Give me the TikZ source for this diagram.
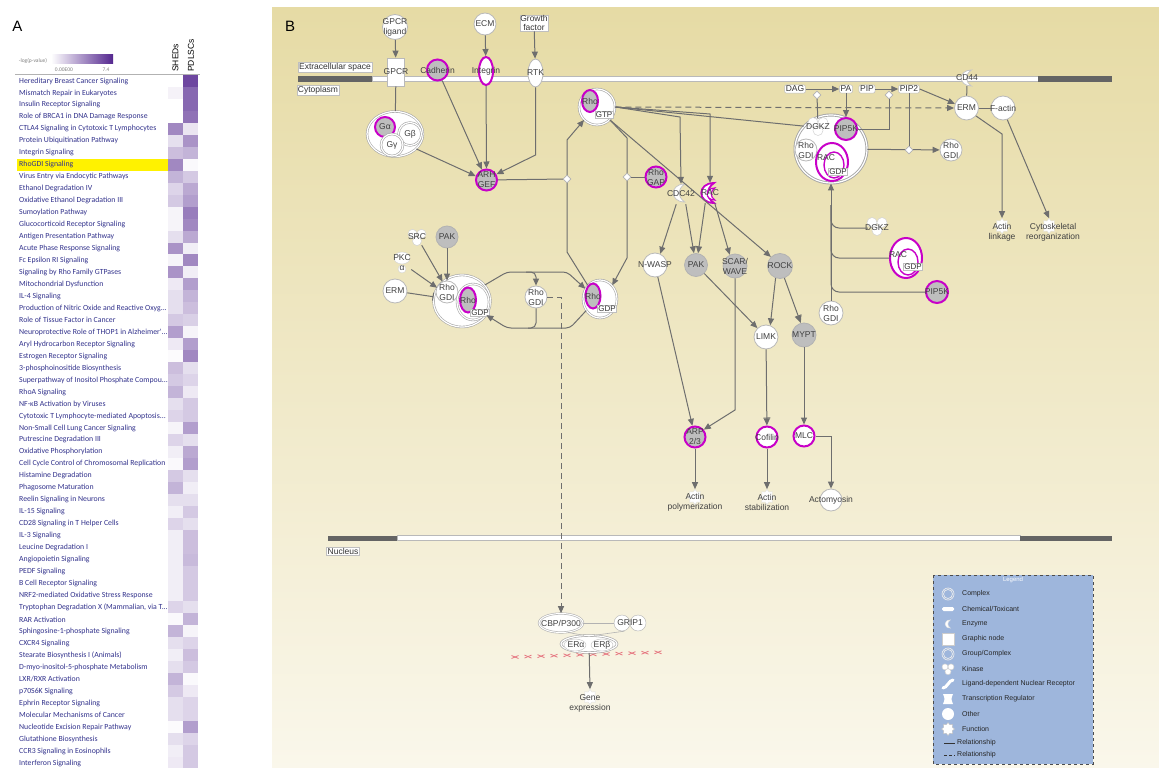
\documentclass[tikz,border=0pt]{standalone}
\usepackage{fontspec}
\setmainfont{Liberation Sans}
\newfontfamily\listfont{Carlito}
\usepackage{tikz}
\usetikzlibrary{arrows.meta,shapes.geometric}

\definecolor{hmpurple}{RGB}{84,39,143}
\definecolor{pwblue}{RGB}{50,50,140}
\definecolor{bgtop}{RGB}{230,219,165}
\definecolor{bgbot}{RGB}{250,247,235}
\definecolor{hlmag}{RGB}{200,0,200}
\definecolor{molgray}{RGB}{190,190,190}
\definecolor{edgegray}{RGB}{110,110,110}
\definecolor{memdark}{RGB}{100,100,100}
\definecolor{legblue}{RGB}{158,182,220}
\definecolor{dnared}{RGB}{230,120,130}

% three-lobed kinase glyph: x, y, lobe radius
\newcommand{\kinshape}[3]{%
  \foreach \kdx/\kdy in {-1/-0.7,1/-0.7,0/0.9}
    \filldraw[fill=white, draw=gray!35, line width=0.5pt] ({#1+\kdx*#3},{#2+\kdy*#3}) circle ({#3});}
% crescent enzyme glyph: x, y, size, colour, line width
\newcommand{\enzshape}[5]{%
  \filldraw[fill=white, draw=#4, line width=#5] ({#1+0.3*#3},{#2-#3}) .. controls ({#1-1.4*#3},{#2-#3}) and ({#1-1.4*#3},{#2+#3}) .. ({#1+0.3*#3},{#2+#3}) .. controls ({#1-0.5*#3},{#2+0.45*#3}) and ({#1-0.5*#3},{#2-0.45*#3}) .. cycle;}

\begin{document}
\begin{tikzpicture}[x=1pt,y=-1pt,
    pathway/.style={anchor=west, inner sep=0pt, text=pwblue, font=\listfont\fontsize{7.8}{7.8}\selectfont},
    lab/.style={font=\fontsize{8.5}{10}\selectfont, text=black!75, align=center, inner sep=0pt},
    wmol/.style={circle, fill=white, draw=gray!55, line width=0.8pt, inner sep=0pt},
    gmol/.style={circle, fill=molgray, draw=gray!60, line width=0.8pt, inner sep=0pt},
    hl/.style={draw=hlmag, line width=2pt},
    cplx/.style={circle, fill=white, draw=gray!70, double=white, double distance=1.2pt, line width=0.6pt, inner sep=0pt},
    lbox/.style={fill=white, draw=gray!50, line width=0.5pt, inner sep=1pt, font=\fontsize{8.5}{9}\selectfont, text=black!80},
    gbox/.style={fill=white, draw=gray!50, line width=0.5pt, inner sep=0.8pt, font=\fontsize{8}{8}\selectfont, text=black!80},
    chem/.style={rounded corners=2pt, fill=white, draw=gray!50, line width=0.5pt, inner sep=1.2pt, font=\fontsize{8.5}{8.5}\selectfont, text=black!80},
    conn/.style={draw=edgegray, line width=1pt, -{Triangle[length=7pt,width=6pt]}},
    plain/.style={draw=edgegray, line width=1pt},
    dconn/.style={conn, dash pattern=on 6pt off 4pt},
    barconn/.style={draw=edgegray, line width=1pt, -{Bar[width=7pt] Triangle[length=7pt,width=6pt]}},
    inhib/.style={draw=edgegray, line width=1pt, -{Bar[width=8pt]}},
    catal/.style={diamond, fill=white, draw=gray!60, line width=0.6pt, inner sep=0pt, minimum size=8pt},
    fnode/.style={star, star points=8, star point ratio=1.4, fill=white, draw=gray!25, inner sep=0pt, minimum size=15pt},
    legtext/.style={anchor=west, inner sep=0pt, font=\fontsize{7}{7}\selectfont, text=black!85}
  ]
    % Canvas
    \useasboundingbox (0,0) rectangle (1159,768);
    \fill[white] (0,0) rectangle (1159,768);

    % Panel A: heat map of pathways
    \node[font=\fontsize{15}{15}\selectfont] (labA) at (17.5,26) {A};
    \node[font=\listfont\fontsize{5.5}{5.5}\selectfont, text=gray] (pvalue) at (33,61) {-log(p-value)};
    \shade[left color=white, right color=hmpurple] (51,55) rectangle (113,64);
    \node[font=\listfont\fontsize{5.5}{5.5}\selectfont, text=gray] (pmin) at (64,70) {0.00E00};
    \node[font=\listfont\fontsize{5.5}{5.5}\selectfont, text=gray] (pmax) at (106,70) {7.4};
    \node[rotate=90, anchor=west, inner sep=0pt, font=\fontsize{8.5}{8.5}\selectfont] (colS) at (175.5,72) {SHEDs};
    \node[rotate=90, anchor=west, inner sep=0pt, font=\fontsize{8.5}{8.5}\selectfont] (colP) at (191,72) {PDLSCs};
    \draw[gray!60] (15,74.5) -- (200,74.5);
    \fill[yellow] (17,158.8) rectangle (168,170.7);
    \foreach \pw/\shv/\pdv [count=\i] in {
        {Hereditary Breast Cancer Signaling}/0/85,
        {Mismatch Repair in Eukaryotes}/6/70,
        {Insulin Receptor Signaling}/0/70,
        {Role of BRCA1 in DNA Damage Response}/0/65,
        {CTLA4 Signaling in Cytotoxic T Lymphocytes}/55/12,
        {Protein Ubiquitination Pathway}/15/50,
        {Integrin Signaling}/30/35,
        {RhoGDI Signaling}/55/3,
        {Virus Entry via Endocytic Pathways}/35/25,
        {Ethanol Degradation IV}/20/40,
        {Oxidative Ethanol Degradation III}/25/45,
        {Sumoylation Pathway}/5/60,
        {Glucocorticoid Receptor Signaling}/5/55,
        {Antigen Presentation Pathway}/15/40,
        {Acute Phase Response Signaling}/50/8,
        {Fc Epsilon RI Signaling}/5/55,
        {Signaling by Rho Family GTPases}/50/8,
        {Mitochondrial Dysfunction}/10/45,
        {IL-4 Signaling}/15/35,
        {Production of Nitric Oxide and Reactive Oxyg...}/15/30,
        {Role of Tissue Factor in Cancer}/25/22,
        {Neuroprotective Role of THOP1 in Alzheimer'...}/45/5,
        {Aryl Hydrocarbon Receptor Signaling}/10/45,
        {Estrogen Receptor Signaling}/2/55,
        {3-phosphoinositide Biosynthesis}/30/15,
        {Superpathway of Inositol Phosphate Compou...}/25/20,
        {RhoA Signaling}/35/10,
        {NF-κB Activation by Viruses}/15/25,
        {Cytotoxic T Lymphocyte-mediated Apoptosis...}/20/25,
        {Non-Small Cell Lung Cancer Signaling}/5/45,
        {Putrescine Degradation III}/20/15,
        {Oxidative Phosphorylation}/8/40,
        {Cell Cycle Control of Chromosomal Replication}/3/45,
        {Histamine Degradation}/25/15,
        {Phagosome Maturation}/35/8,
        {Reelin Signaling in Neurons}/15/15,
        {IL-15 Signaling}/8/25,
        {CD28 Signaling in T Helper Cells}/20/15,
        {IL-3 Signaling}/8/30,
        {Leucine Degradation I}/8/30,
        {Angiopoietin Signaling}/8/32,
        {PEDF Signaling}/8/25,
        {B Cell Receptor Signaling}/8/25,
        {NRF2-mediated Oxidative Stress Response}/8/25,
        {Tryptophan Degradation X (Mammalian, via T...}/20/15,
        {RAR Activation}/3/35,
        {Sphingosine-1-phosphate Signaling}/35/5,
        {CXCR4 Signaling}/15/20,
        {Stearate Biosynthesis I (Animals)}/8/30,
        {D-myo-inositol-5-phosphate Metabolism}/15/25,
        {LXR/RXR Activation}/35/3,
        {p70S6K Signaling}/25/10,
        {Ephrin Receptor Signaling}/15/20,
        {Molecular Mechanisms of Cancer}/15/20,
        {Nucleotide Excision Repair Pathway}/2/45,
        {Glutathione Biosynthesis}/15/20,
        {CCR3 Signaling in Eosinophils}/8/25,
        {Interferon Signaling}/10/25}{
        \fill[hmpurple!\shv] (168,{75+(\i-1)*11.965}) rectangle (183,{75+\i*11.965});
        \fill[hmpurple!\pdv] (183,{75+(\i-1)*11.965}) rectangle (198,{75+\i*11.965});
        \node[pathway] (pw\i) at (19,{81+(\i-1)*11.965}) {\pw};
    }

    % Panel B: background and membranes
    \shade[top color=bgtop, bottom color=bgbot] (272,8) rectangle (1159,768);
    \node[font=\fontsize{15}{15}\selectfont] (labB) at (290,26) {B};
    \fill[memdark] (298,76.5) rectangle (372,81.5);
    \filldraw[fill=white, draw=gray!55, line width=0.6pt] (372,76.5) rectangle (1038,81.5);
    \fill[memdark] (1038,76.5) rectangle (1112,81.5);
    \fill[memdark] (328,535.5) rectangle (397,540.5);
    \filldraw[fill=white, draw=gray!55, line width=0.6pt] (397,535.5) rectangle (1020,540.5);
    \fill[memdark] (1020,535.5) rectangle (1112,540.5);
    \node[lbox] (extra) at (335,67) {Extracellular space};
    \node[lbox] (cyto) at (318,90) {Cytoplasm};
    \node[lbox] (nucl) at (343,551) {Nucleus};

    % Receptors at the membrane
    \node[wmol, minimum size=25pt, label={[lab]center:{GPCR\\ligand}}] (gpcrlig) at (395,27) {};
    \node[wmol, minimum size=22pt, label={[lab]center:ECM}] (ecm) at (485,24) {};
    \node[lbox, align=center, inner sep=0.5pt] (growth) at (534,23) {Growth\\factor};
    \node[rectangle, fill=white, draw=gray!55, line width=0.8pt, minimum width=17pt, minimum height=28pt, inner sep=0pt, label={[lab]center:GPCR}] (gpcr) at (396,72) {};
    \node[gmol, hl, minimum size=21pt, label={[lab]center:Cadherin}] (cadh) at (437.5,70) {};
    \node[wmol, ellipse, hl, minimum width=14pt, minimum height=28pt, label={[lab]center:Integrin}] (integ) at (486,71) {};
    \node[wmol, ellipse, minimum width=15pt, minimum height=28pt, label={[lab]center:RTK}] (rtk) at (535.5,73) {};

    % G protein complex and ARHGEF
    \node[cplx, ellipse, minimum width=56pt, minimum height=45pt] (gcomp) at (395,134) {};
    \node[gmol, hl, minimum size=20pt, label={[lab]center:Gα}] (galpha) at (385,127) {};
    \node[cplx, minimum size=23pt, label={[lab]center:Gβ}] (gbeta) at (410,134) {};
    \node[cplx, minimum size=22pt, label={[lab]center:Gγ}] (ggamma) at (392,145) {};
    \node[gmol, hl, minimum size=21pt, label={[lab]center:{ARH\\GEF}}] (arhgef) at (486.5,180) {};
    \draw[conn] (gpcrlig) -- (gpcr);
    \draw[conn] (ecm) -- (integ);
    \draw[conn] (growth) -- (rtk);
    \draw[plain] (gpcr) -- (gcomp);
    \draw[conn] (cadh) -- (arhgef);
    \draw[conn] (integ) -- (arhgef);
    \draw[conn] (rtk.south) -- (535.5,155) -- (arhgef.30);
    \draw[conn] (gcomp.-35) -- (arhgef.160);

    % Rho GTP / GDP cycle
    \node[cplx, minimum size=36pt] (gtpcx) at (597,107) {};
    \node[gmol, hl, ellipse, minimum width=16pt, minimum height=22pt, label={[lab]center:Rho}] (rhoT) at (590,101) {};
    \node[gbox] (gtp) at (604,115) {GTP};
    \node[cplx, ellipse, minimum width=34pt, minimum height=38pt] (rcx) at (600,299) {};
    \node[gmol, hl, ellipse, minimum width=15pt, minimum height=25pt, label={[lab]center:Rho}] (rhoR) at (593,296) {};
    \node[gbox] (gdpR) at (607,309) {GDP};
    \node[cplx, ellipse, minimum width=57pt, minimum height=52pt] (lcx) at (462,301) {};
    \node[wmol, minimum size=22pt, label={[lab]center:{Rho\\GDI}}] (gdiL) at (447,292) {};
    \node[cplx, ellipse, minimum width=32pt, minimum height=36pt] (lgdp) at (473,302) {};
    \node[gmol, hl, ellipse, minimum width=16pt, minimum height=25pt, label={[lab]center:Rho}] (rhoL) at (468,300) {};
    \node[gbox] (gdpL) at (480,313) {GDP};

    % Regulators of the Rho GDI complex
    \kinshape{417}{237}{4.5}
    \node[minimum size=16pt, inner sep=0pt, label={[lab]center:SRC}] (src) at (417,237) {};
    \node[gmol, minimum size=22pt, label={[lab]center:PAK}] (pakL) at (447,237) {};
    \filldraw[fill=white, draw=gray!35] (402,258) ellipse (8 and 6);
    \filldraw[fill=white, draw=gray!35] (402,269) ellipse (4 and 4);
    \node[minimum size=18pt, inner sep=0pt, label={[lab]center:{PKC\\α}}] (pkc) at (402,263) {};
    \node[wmol, minimum size=24pt, label={[lab]center:ERM}] (ermL) at (395,291) {};
    \draw[conn] (src) -- (lcx.135);
    \draw[conn] (pakL) -- (gdiL);
    \draw[conn] (pkc) -- (lcx.152);
    \draw[inhib] (ermL) -- (lcx);

    \node[wmol, minimum size=22pt, label={[lab]center:{Rho\\GDI}}] (gdiM) at (536,297) {};
    \coordinate (brtop) at (526,272);
    \coordinate (brbot) at (528,328);
    \draw[conn, rounded corners=4pt] (lcx.35) -- (507,272) -- (567,272) -- (rcx.145);
    \draw[conn, rounded corners=5pt] (brtop) -| (gdiM.north);
    \draw[conn, rounded corners=4pt] (rcx.220) -- (570,328) -- (507,328) -- (lcx.-30);
    \draw[plain, rounded corners=5pt] (gdiM.south) |- (brbot);
    \draw[conn] (rcx.north west) -- (567,252) -- (567,140) -- (gtpcx.south west);
    \draw[conn] (gtpcx.south east) -- (627,138) -- (627,258) -- (rcx.north east);
    \node[catal] (dGEF) at (567,179) {};
    \draw[plain] (arhgef) -- (dGEF);
    \node[gmol, hl, minimum size=21pt, label={[lab]center:{Rho\\GAP}}] (rhogap) at (656,177) {};
    \node[catal] (dGAP) at (627,177) {};
    \draw[plain] (dGAP) -- (rhogap);

    % Rho GTP effectors
    \enzshape{682}{193}{9}{gray!45}{0.8pt}
    \node[minimum size=20pt, inner sep=0pt, label={[lab]center:CDC42}] (cdc) at (681,194) {};
    \enzshape{711}{193}{10}{hlmag}{1.8pt}
    \enzshape{713}{194}{6}{hlmag}{1.2pt}
    \node[minimum size=20pt, inner sep=0pt, label={[lab]center:RAC}] (rac) at (710,193) {};
    \node[wmol, minimum size=24pt, label={[lab]center:N-WASP}] (nwasp) at (655,265) {};
    \node[gmol, minimum size=23pt, label={[lab]center:PAK}] (pakR) at (696,265) {};
    \node[gmol, minimum size=24pt, label={[lab]center:{SCAR/\\WAVE}}] (scar) at (735,266) {};
    \node[gmol, minimum size=25pt, label={[lab]center:ROCK}] (rock) at (780,266) {};
    \draw[conn] (gtpcx.east) -- (680,117) -- (cdc.north);
    \draw[conn] (gtpcx.east) -- (710,114) -- (rac.north);
    \draw[conn] (gtpcx.south east) -- (rock.north west);
    \draw[conn] (cdc.245) -- (nwasp.65);
    \draw[conn] (cdc.295) -- (pakR.100);
    \draw[conn] (rac.245) -- (pakR.80);
    \draw[conn] (rac.295) -- (scar.115);

    % Cytoskeletal outputs
    \node[wmol, minimum size=24pt, label={[lab]center:LIMK}] (limk) at (766,337) {};
    \node[gmol, minimum size=24pt, label={[lab]center:MYPT}] (mypt) at (804,335) {};
    \node[gmol, hl, minimum size=21pt, label={[lab]center:{ARP\\2/3}}] (arp) at (695,437) {};
    \node[wmol, hl, minimum size=21pt, label={[lab]center:Cofilin}] (cofilin) at (767,437) {};
    \node[wmol, hl, minimum size=21pt, label={[lab]center:MLC}] (mlc) at (804,436) {};
    \node[fnode] (actpol) at (695,497) {};
    \node[lab] (actpolT) at (695,502) {Actin\\polymerization};
    \node[fnode] (actstab) at (767,497) {};
    \node[lab] (actstabT) at (767,502) {Actin\\stabilization};
    \node[wmol, minimum size=22pt, label={[lab]center:Actomyosin}] (actomy) at (831,500) {};
    \draw[conn] (nwasp) -- (arp);
    \draw[conn] (scar.south) -- (735,410) -- (arp.40);
    \draw[conn] (pakR) -- (limk);
    \draw[conn] (rock.250) -- (limk.70);
    \draw[barconn] (rock.290) -- (mypt.105);
    \draw[barconn] (limk) -- (cofilin);
    \draw[conn] (mypt) -- (mlc);
    \draw[conn] (arp) -- (actpol);
    \draw[conn] (cofilin) -- (actstab);
    \draw[conn] (mlc.east) -| (actomy.north);

    % Lipid signalling and the DGKZ complex
    \node[cplx, ellipse, minimum width=72pt, minimum height=68pt, line width=0.9pt] (bigcx) at (831,149) {};
    \kinshape{818}{126}{5}
    \node[minimum size=18pt, inner sep=0pt, label={[lab]center:DGKZ}] (dgkzA) at (818,127) {};
    \node[gmol, hl, minimum size=22pt, label={[lab]center:PIP5K}] (pip5kA) at (846,129) {};
    \node[wmol, minimum size=22pt, label={[lab]center:{Rho\\GDI}}] (gdiA) at (806,150) {};
    \node[ellipse, fill=white, draw=hlmag, line width=2pt, minimum width=32pt, minimum height=38pt] (racA) at (832,162) {};
    \draw[hlmag, line width=1.4pt] (834,165) ellipse (10 and 13);
    \node[lab] (racAT) at (826,158) {RAC};
    \node[gbox] (gdpA) at (838,172) {GDP};
    \node[chem] (dag) at (795,89) {DAG};
    \node[chem] (pa) at (846,89) {PA};
    \node[chem] (pip) at (867,89) {PIP};
    \node[chem] (pip2) at (909,89) {PIP2};
    \draw[conn] (dag) -- (pa);
    \draw[conn] (pip) -- (pip2);
    \draw[conn] (pa) -- (pip5kA);
    \node[catal] (dDAG) at (817,95) {};
    \node[catal] (dPIP) at (889,95) {};
    \draw[plain] (dDAG) -- (dgkzA);
    \draw[plain] (dPIP) |- (pip5kA);
    \draw[plain] (gtpcx.east) -- (bigcx.140);
    \node[wmol, minimum size=22pt, label={[lab]center:{Rho\\GDI}}] (gdiC) at (951,150) {};
    \draw[conn] (bigcx) -- (gdiC);
    \node[catal] (dPIP2) at (909,150) {};
    \draw[plain] (pip2) -- (dPIP2);

    % ERM and actin outputs
    \enzshape{969}{78}{8}{gray!45}{0.8pt}
    \node[minimum size=16pt, inner sep=0pt, label={[lab]center:CD44}] (cd44) at (967,78) {};
    \node[wmol, minimum size=24pt, label={[lab]center:ERM}] (erm) at (966.5,108) {};
    \node[wmol, minimum size=24pt, label={[lab]center:F-actin}] (factin) at (1003,108) {};
    \draw[plain] (cd44) -- (erm);
    \draw[plain] (erm) -- (factin);
    \draw[conn] (pip2.east) -- (erm.160);
    \draw[dconn] (gtpcx.east) -- (erm.west);
    \node[fnode] (actlink) at (1002,226) {};
    \node[lab] (actlinkT) at (1002,232) {Actin\\linkage};
    \node[fnode] (cytor) at (1049,226) {};
    \node[lab] (cytorT) at (1053,232) {Cytoskeletal\\reorganization};
    \draw[conn] (erm.-40) -- (1002,134) -- (actlink.north);
    \draw[conn] (factin.-70) -- (cytor.north);

    % Inputs back into the DGKZ complex
    \node[wmol, minimum size=24pt, label={[lab]center:{Rho\\GDI}}] (gdiR) at (831,313) {};
    \kinshape{877}{226}{5}
    \node[minimum size=18pt, inner sep=0pt, label={[lab]center:DGKZ}] (dgkzB) at (877,228) {};
    \node[ellipse, fill=white, draw=hlmag, line width=2pt, minimum width=32pt, minimum height=40pt] (racB) at (906,258) {};
    \draw[hlmag, line width=1.4pt] (908,262) ellipse (10 and 13);
    \node[lab] (racBT) at (898,255) {RAC};
    \node[gbox] (gdpB) at (913,267) {GDP};
    \node[gmol, hl, minimum size=22pt, label={[lab]center:PIP5K}] (pip5kB) at (937,292) {};
    \coordinate (joinR) at (831,205);
    \draw[conn] (gdiR) -- (bigcx);
    \draw[plain, rounded corners=8pt] (dgkzB.west) -| (joinR);
    \draw[plain, rounded corners=8pt] (racB.west) -| (joinR);
    \draw[plain, rounded corners=8pt] (pip5kB.west) -| (joinR);

    % Nucleus
    \node[ellipse, fill=white, draw=gray!60, double=white, double distance=1pt, line width=0.6pt, minimum width=44pt, minimum height=19pt, inner sep=0pt, label={[lab]center:CBP/P300}] (cbp) at (561,623) {};
    \filldraw[fill=white, draw=gray!60] (622,623) ellipse (8 and 8);
    \filldraw[fill=white, draw=gray!60] (638,623) ellipse (8 and 8);
    \node[minimum width=32pt, minimum height=16pt, inner sep=0pt, label={[lab]center:GRIP1}] (grip) at (630,623) {};
    \draw[gray!60, line width=1pt] (cbp) -- (grip);
    \draw[dconn] (gdiM.east) -| (cbp.north);
    % DNA strand
    \foreach \xx in {515,528,...,668} {
        \pgfmathsetmacro{\yy}{657-(\xx-515)*0.033}
        \draw[dnared, line width=0.8pt] (\xx-3.5,\yy-1.5) -- (\xx+3.5,\yy+1.5);
        \draw[dnared, line width=0.8pt] (\xx-3.5,\yy+1.5) -- (\xx+3.5,\yy-1.5);
    }
    \node[cplx, ellipse, minimum width=56pt, minimum height=17pt] (ercx) at (589,644) {};
    \filldraw[fill=white, draw=gray!50] (575,645) ellipse (11 and 6);
    \filldraw[fill=white, draw=gray!50] (602,645) ellipse (11 and 6);
    \node[lab] (era) at (576,645) {ERα};
    \node[lab] (erb) at (602,645) {ERβ};
    \draw[gray!60, line width=0.6pt] (cbp.-55) -- (ercx.120);
    \draw[gray!60, line width=0.6pt] (grip.-125) -- (ercx.60);
    \node[fnode] (gene) at (590,697) {};
    \node[lab] (geneT) at (590,703) {Gene\\expression};
    \draw[conn] (ercx) -- (gene.north);

    % Legend
    \filldraw[fill=legblue, draw=gray!60!black, dashed, line width=0.6pt] (933,575) rectangle (1093,764);
    \node[font=\fontsize{6}{6}\selectfont, text=white] (legT) at (1013,580) {Legend};
    \foreach \txt [count=\k] in {Complex, Chemical/Toxicant, Enzyme, Graphic node, Group/Complex, Kinase, Ligand-dependent Nuclear Receptor, Transcription Regulator, Other, Function}
        \node[legtext] (leg\k) at (962,{579+15*\k}) {\txt};
    \draw[gray!15, line width=0.7pt] (948,594) circle (6) (948,594) circle (4.5);
    \fill[white, rounded corners=1.5pt] (942,607) rectangle (954,611);
    \enzshape{949}{624}{4}{gray!20}{0.5pt}
    \filldraw[fill=white, draw=gray!40] (942,633) rectangle (954,645);
    \draw[gray!15, line width=0.7pt] (948,654) circle (6) (948,654) circle (4.5);
    \kinshape{948}{669}{3}
    \draw[white, line width=3pt, line cap=round] (943,688) .. controls (947,688) and (949,680) .. (953,680);
    \fill[white] (943,694) -- (953,694) .. controls (951,699) .. (953,704) -- (943,704) .. controls (945,699) .. cycle;
    \fill[white] (948,714) circle (6);
    \node[fnode, minimum size=13pt, draw=gray!50] (legF) at (948,729) {};
    \draw[black!80, line width=0.8pt] (944,743) -- (955,743);
    \node[legtext] (legR1) at (957,743) {Relationship};
    \draw[black!80, line width=0.8pt, dash pattern=on 3pt off 2pt] (944,755) -- (955,755);
    \node[legtext] (legR2) at (957,755) {Relationship};
\end{tikzpicture}
\end{document}
